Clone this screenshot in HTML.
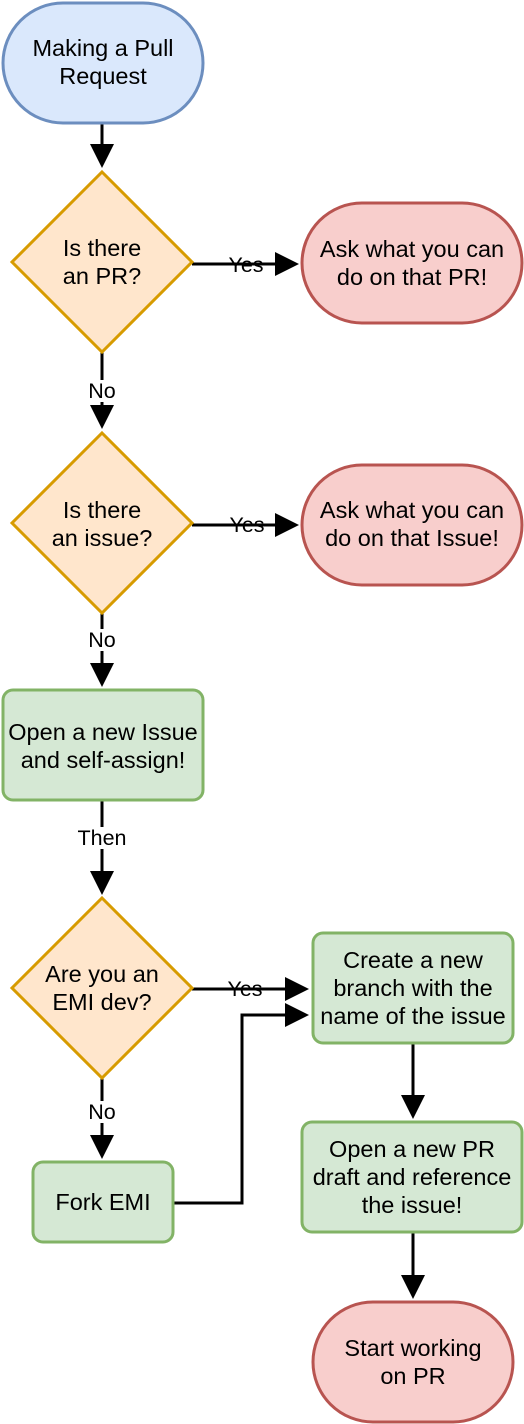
<!DOCTYPE html>
<html><head><meta charset="utf-8"><style>
html,body{margin:0;padding:0;background:#fff;}
svg{display:block;}
text{font-family:"Liberation Sans",Arial,sans-serif;font-size:23.5px;fill:#000;text-anchor:middle;}
.lbl{font-size:21.5px;}
</style></head><body>
<svg width="524" height="1424" viewBox="0 0 524 1424" xmlns="http://www.w3.org/2000/svg">
<defs>
<marker id="a" markerWidth="8" markerHeight="8" refX="7" refY="4" orient="auto" markerUnits="strokeWidth">
<path d="M0,0 L8,4 L0,8 z" fill="#000"/></marker>
</defs>
<g stroke="#000" stroke-width="3" fill="none">
<line x1="102" y1="124" x2="102" y2="165" marker-end="url(#a)"/>
<line x1="192" y1="264" x2="296" y2="264" marker-end="url(#a)"/>
<line x1="102" y1="352" x2="102" y2="426" marker-end="url(#a)"/>
<line x1="192" y1="525" x2="296" y2="525" marker-end="url(#a)"/>
<line x1="102" y1="613" x2="102" y2="684" marker-end="url(#a)"/>
<line x1="102" y1="800" x2="102" y2="892" marker-end="url(#a)"/>
<line x1="192" y1="989" x2="306" y2="989" marker-end="url(#a)"/>
<line x1="102" y1="1078" x2="102" y2="1156" marker-end="url(#a)"/>
<polyline points="173,1203 242,1203 242,1015 306,1015" marker-end="url(#a)"/>
<line x1="413" y1="1043" x2="413" y2="1116" marker-end="url(#a)"/>
<line x1="413" y1="1232" x2="413" y2="1296" marker-end="url(#a)"/>
</g>
<g stroke-width="3">
<rect x="3" y="3" width="200" height="120" rx="60" fill="#dae8fc" stroke="#6c8ebf"/>
<polygon points="102,172 192,262 102,352 12,262" fill="#ffe6cc" stroke="#d79b00"/>
<rect x="302" y="203" width="220" height="120" rx="60" fill="#f8cecc" stroke="#b85450"/>
<polygon points="102,433 192,523 102,613 12,523" fill="#ffe6cc" stroke="#d79b00"/>
<rect x="302" y="465" width="220" height="120" rx="60" fill="#f8cecc" stroke="#b85450"/>
<rect x="3" y="690" width="200" height="110" rx="10" fill="#d5e8d4" stroke="#82b366"/>
<polygon points="102,898 192,988 102,1078 12,988" fill="#ffe6cc" stroke="#d79b00"/>
<rect x="313" y="933" width="200" height="110" rx="10" fill="#d5e8d4" stroke="#82b366"/>
<rect x="33" y="1162" width="140" height="80" rx="10" fill="#d5e8d4" stroke="#82b366"/>
<rect x="302" y="1122" width="220" height="110" rx="10" fill="#d5e8d4" stroke="#82b366"/>
<rect x="313" y="1302" width="200" height="120" rx="60" fill="#f8cecc" stroke="#b85450"/>
</g>
<g fill="#fff">
<rect x="88" y="380" width="28" height="22"/>
<rect x="88" y="629" width="28" height="22"/>
<rect x="76" y="827" width="52" height="22"/>
<rect x="88" y="1101" width="28" height="22"/>
</g>
<text class="lbl" x="246" y="272">Yes</text>
<text class="lbl" x="247" y="532">Yes</text>
<text class="lbl" x="245" y="996">Yes</text>
<text class="lbl" x="102" y="398">No</text>
<text class="lbl" x="102" y="647">No</text>
<text class="lbl" x="102" y="845">Then</text>
<text class="lbl" x="102" y="1119">No</text>
<text x="103" y="56">Making a Pull</text><text x="103" y="84">Request</text>
<text x="102" y="256">Is there</text><text x="102" y="284">an PR?</text>
<text x="412" y="257">Ask what you can</text><text x="412" y="285">do on that PR!</text>
<text x="102" y="518">Is there</text><text x="102" y="546">an issue?</text>
<text x="412" y="518">Ask what you can</text><text x="412" y="546">do on that Issue!</text>
<text x="103" y="740">Open a new Issue</text><text x="103" y="768">and self-assign!</text>
<text x="102" y="982">Are you an</text><text x="102" y="1010">EMI dev?</text>
<text x="413" y="968">Create a new</text><text x="413" y="996">branch with the</text><text x="413" y="1024">name of the issue</text>
<text x="103" y="1210">Fork EMI</text>
<text x="412" y="1157">Open a new PR</text><text x="412" y="1185">draft and reference</text><text x="412" y="1213">the issue!</text>
<text x="413" y="1356">Start working</text><text x="413" y="1384">on PR</text>
</svg>
</body></html>
